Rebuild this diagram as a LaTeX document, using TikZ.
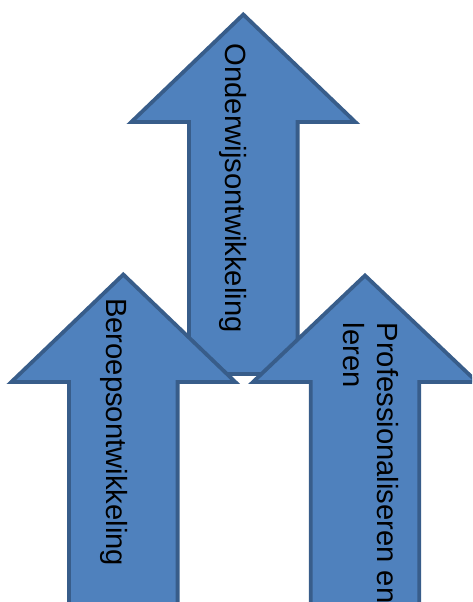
\documentclass[tikz,border=0pt]{standalone}
\usepackage{fontspec}
\setmainfont{Liberation Sans}
\definecolor{arrowfill}{HTML}{4F81BD}
\definecolor{arrowline}{HTML}{385D8A}
\begin{document}
\begin{tikzpicture}[x=1pt,y=-1pt,
  arrowbody/.style={fill=arrowfill,draw=arrowline,line width=3.8pt,line join=miter},
  arrowtext/.style={rotate=-90,anchor=base west,inner sep=0pt,align=left,
    font=\fontsize{29.2}{33.5}\selectfont}]
\useasboundingbox (0,0) rectangle (472,602);
\clip (0,0) rectangle (472,602);
% top arrow
\draw[arrowbody] (243.3,14.5) -- (355.3,122) -- (297.6,122) -- (297.6,374)
  -- (189,374) -- (189,122) -- (131.3,122) -- cycle;
% left arrow
\draw[arrowbody] (123.3,274.5) -- (235.3,382) -- (177.6,382) -- (177.6,640)
  -- (69,640) -- (69,382) -- (11.3,382) -- cycle;
% right arrow
\draw[arrowbody] (365,275.5) -- (477,382) -- (419.3,382) -- (419.3,640)
  -- (310.7,640) -- (310.7,382) -- (253,382) -- cycle;
\node[arrowtext] (onderwijs) at (225,43.5) {Onderwijsontwikkeling};
\node[arrowtext] (beroeps) at (106.7,298) {Beroepsontwikkeling};
\node[arrowtext] (prof) at (343.5,322.5) {Professionaliseren en\\leren};
\end{tikzpicture}
\end{document}
